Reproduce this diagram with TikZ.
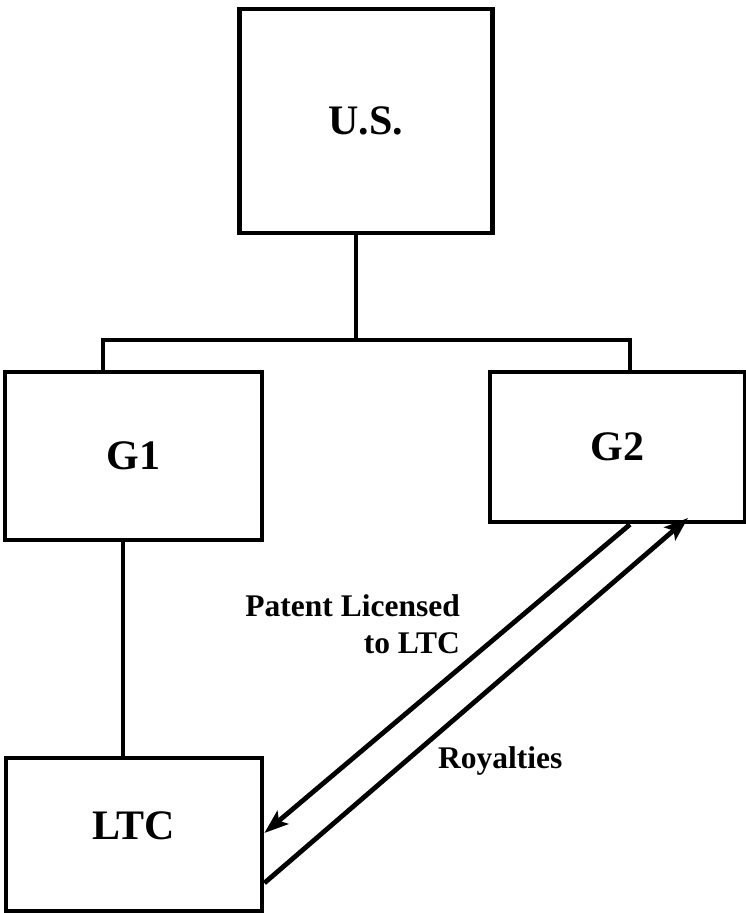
\documentclass[tikz,border=0pt]{standalone}
\usepackage{fontspec}
\setmainfont{Liberation Serif}
\usetikzlibrary{arrows.meta}
\begin{document}
\begin{tikzpicture}[x=1pt,y=-1pt,
  entity/.style={draw,line width=4.8pt,rectangle,inner sep=0pt,
    font=\fontsize{42}{46}\selectfont\bfseries},
  link/.style={line width=4.8pt},
  flow/.style={line width=4.8pt,-{Stealth[length=24pt,width=17pt,inset=5pt]}},
  lbl/.style={inner sep=0pt,font=\fontsize{31.5}{37}\selectfont\bfseries}]
\useasboundingbox (0,0) rectangle (746,913);
\node[entity,minimum width=253pt,minimum height=224pt] (us) at (366,121) {U.S.};
\node[entity,minimum width=257pt,minimum height=168pt] (g1) at (133.5,456) {G1};
\node[entity,minimum width=255pt,minimum height=150pt] (g2) at (617.5,447) {G2};
\node[entity,minimum width=256pt,minimum height=153pt,text depth=18pt] (ltc) at (134,834.5) {LTC};
\coordinate (junc) at (356,340);
\coordinate (lc) at (103,340);
\coordinate (rc) at (630,340);
\coordinate (v1) at (123,650);
\draw[link] (us.south -| junc) -- (junc);
\draw[link] (g1.north -| lc) -- (lc) -- (rc) -- (g2.north -| rc);
\draw[link] (g1.south -| v1) -- (ltc.north -| v1);
\coordinate (pa) at (630,0);
\coordinate (pb) at (0,833);
\coordinate (rb) at (0,883);
\coordinate (rt) at (688,518);
\draw[flow] (g2.south -| pa) -- (ltc.east |- pb);
\draw[flow] (ltc.east |- rb) -- (rt);
\node[lbl,align=right,anchor=north east] (pl) at (460,594) {Patent Licensed\\to LTC};
\node[lbl,anchor=north west] (roy) at (438,746) {Royalties};
\end{tikzpicture}
\end{document}
